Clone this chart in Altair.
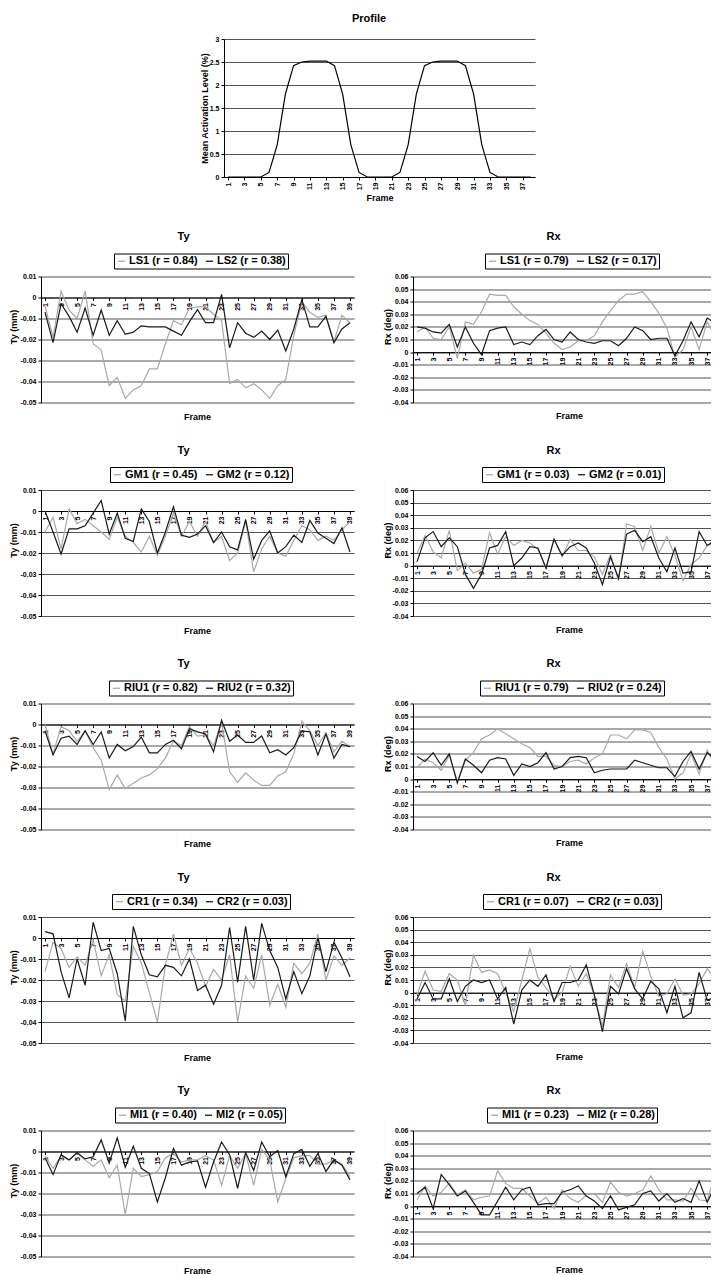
import altair as alt
import pandas as pd

FONT = "Liberation Sans"
GRAY = "#a9a9a9"
BLACK = "#1a1a1a"
GRID = "#555555"

# ---------------- data ----------------
frames = list(range(1, 40))
profile_frames = list(range(1, 39))
profile_values = [0, 0, 0, 0, 0, 0.1, 0.7, 1.8, 2.42, 2.5, 2.52, 2.52, 2.52, 2.42, 1.8, 0.7, 0.1,
                  0, 0, 0, 0, 0.1, 0.7, 1.8, 2.42, 2.5, 2.52, 2.52, 2.52, 2.42, 1.8, 0.7, 0.1,
                  0, 0, 0, 0, 0]

profile_ticks = [0, 0.5, 1, 1.5, 2, 2.5, 3]
ty_ticks = [0.01, 0.0, -0.01, -0.02, -0.03, -0.04, -0.05]
rx_ticks = [0.06, 0.05, 0.04, 0.03, 0.02, 0.01, 0.0, -0.01, -0.02, -0.03, -0.04]
ty_frame_labels = list(range(1, 40, 2))
rx_frame_labels = list(range(1, 38, 2))
profile_frame_labels = list(range(1, 38, 2))

ls1_ty = [-0.004, -0.019, 0.003, -0.006, -0.010, 0.003, -0.022, -0.025, -0.042, -0.038, -0.048, -0.044, -0.042,
          -0.034, -0.034, -0.022, -0.011, -0.013, -0.005, -0.0045, -0.0045, -0.008, -0.011, -0.041, -0.039, -0.043,
          -0.041, -0.044, -0.048, -0.042, -0.039, -0.018, -0.002, -0.007, -0.0095, -0.0085, -0.021, -0.0085, -0.012]
ls2_ty = [-0.007, -0.0215, -0.003, -0.009, -0.0165, -0.005, -0.018, -0.006, -0.018, -0.011, -0.0175, -0.0165, -0.0135,
          -0.014, -0.014, -0.014, -0.016, -0.018, -0.0115, -0.0058, -0.012, -0.012, 0.0015, -0.024, -0.012, -0.017,
          -0.019, -0.016, -0.020, -0.0155, -0.0255, -0.015, -0.001, -0.014, -0.014, -0.009, -0.0215, -0.015, -0.012]
ls1_rx = [0.016, 0.020, 0.011, 0.010, 0.020, -0.005, 0.024, 0.022, 0.032, 0.046, 0.045, 0.045, 0.036,
          0.030, 0.025, 0.022, 0.015, 0.007, 0.002, 0.004, 0.009, 0.009, 0.013, 0.024, 0.033, 0.041,
          0.046, 0.046, 0.048, 0.040, 0.031, 0.019, -0.004, 0.002, 0.020, 0.002, 0.024, 0.012, 0.006]
ls2_rx = [0.020, 0.019, 0.016, 0.015, 0.022, 0.004, 0.020, 0.007, -0.002, 0.017, 0.019, 0.020, 0.006,
          0.008, 0.006, 0.013, 0.018, 0.010, 0.008, 0.016, 0.010, 0.008, 0.007, 0.009, 0.009, 0.005,
          0.011, 0.020, 0.017, 0.010, 0.011, 0.011, -0.003, 0.009, 0.024, 0.012, 0.027, 0.023, 0.012]

gm1_ty = [-0.010, -0.003, -0.018, 0.001, -0.006, -0.004, -0.007, -0.010, -0.0135, -0.003, -0.012, -0.015, -0.0195,
          -0.012, -0.021, -0.012, -0.001, -0.012, -0.005, -0.012, -0.005, -0.015, -0.012, -0.0235, -0.020, -0.005,
          -0.029, -0.018, -0.012, -0.020, -0.0215, -0.014, -0.007, -0.009, -0.014, -0.012, -0.014, -0.009, -0.005]
gm2_ty = [0.000, -0.010, -0.0205, -0.0085, -0.0085, -0.007, -0.001, 0.005, -0.011, -0.001, -0.013, -0.0145, 0.001,
          -0.005, -0.020, -0.010, 0.002, -0.0115, -0.0125, -0.011, -0.007, -0.015, -0.010, -0.017, -0.0185, -0.004,
          -0.023, -0.014, -0.0095, -0.020, -0.017, -0.0115, -0.015, -0.0045, -0.0105, -0.013, -0.0155, -0.008, -0.0195]
gm1_rx = [0.010, 0.024, 0.011, 0.006, 0.028, -0.004, 0.002, -0.006, -0.003, 0.026, 0.009, 0.023, 0.016,
          0.020, 0.018, 0.013, -0.002, 0.021, 0.007, 0.021, 0.012, 0.012, 0.007, -0.007, 0.009, -0.012,
          0.033, 0.031, 0.012, 0.031, 0.010, 0.023, 0.008, -0.012, 0.001, 0.006, 0.016, 0.018, 0.012]
gm2_rx = [0.003, 0.022, 0.027, 0.015, 0.022, 0.015, -0.007, -0.018, -0.007, 0.014, 0.016, 0.027, 0.000,
          0.006, 0.015, 0.014, -0.002, 0.021, 0.008, 0.015, 0.018, 0.014, 0.002, -0.015, 0.007, -0.010,
          0.025, 0.028, 0.019, 0.023, 0.006, -0.005, 0.014, -0.006, -0.005, 0.027, 0.016, 0.020, 0.023]

riu1_ty = [0.000, -0.014, -0.001, -0.003, -0.008, -0.003, -0.011, -0.017, -0.031, -0.024, -0.0305, -0.028, -0.0255,
           -0.024, -0.021, -0.016, -0.008, -0.010, -0.001, -0.0055, -0.005, -0.010, 0.001, -0.0225, -0.0275, -0.023,
           -0.0265, -0.029, -0.029, -0.0245, -0.0225, -0.014, 0.0015, -0.003, -0.010, -0.004, -0.013, -0.008, -0.0105]
riu2_ty = [-0.003, -0.0145, -0.0065, -0.0055, -0.0095, -0.003, -0.0095, -0.0035, -0.016, -0.0095, -0.0125, -0.0105, -0.006,
           -0.0135, -0.0135, -0.0095, -0.0075, -0.0115, -0.002, -0.0035, -0.0045, -0.013, 0.002, -0.008, -0.005, -0.0085,
           -0.0085, -0.0055, -0.0135, -0.012, -0.0145, -0.011, -0.003, -0.0035, -0.0145, -0.0045, -0.016, -0.0095, -0.0105]
riu1_rx = [0.009, 0.016, 0.013, 0.007, 0.019, -0.002, 0.015, 0.021, 0.032, 0.035, 0.040, 0.036, 0.032,
           0.028, 0.025, 0.018, 0.018, 0.011, 0.010, 0.014, 0.015, 0.012, 0.017, 0.020, 0.035, 0.035,
           0.032, 0.039, 0.039, 0.037, 0.025, 0.016, 0.000, 0.005, 0.020, 0.004, 0.023, 0.010, 0.012]
riu2_rx = [0.018, 0.014, 0.021, 0.011, 0.020, -0.003, 0.016, 0.011, 0.005, 0.015, 0.017, 0.016, 0.003,
           0.012, 0.010, 0.013, 0.021, 0.008, 0.010, 0.017, 0.018, 0.017, 0.005, 0.007, 0.008, 0.008,
           0.008, 0.015, 0.013, 0.011, 0.009, 0.009, 0.002, 0.014, 0.022, 0.008, 0.021, 0.016, 0.015]

cr1_ty = [-0.016, -0.002, -0.005, -0.014, -0.009, -0.013, -0.001, -0.018, -0.008, -0.027, -0.030, -0.004, -0.012,
          -0.026, -0.040, -0.013, 0.002, -0.013, -0.005, -0.012, -0.023, -0.015, -0.020, -0.008, -0.040, -0.018,
          -0.024, -0.008, -0.032, -0.022, -0.033, -0.012, -0.017, -0.012, 0.002, -0.020, -0.0085, -0.013, -0.0095]
cr2_ty = [0.003, 0.002, -0.016, -0.0285, -0.010, -0.0225, 0.0075, -0.006, -0.005, -0.017, -0.0395, 0.0055, -0.008,
          -0.0175, -0.0185, -0.013, -0.014, -0.018, -0.010, -0.025, -0.0225, -0.0315, -0.0225, 0.005, -0.021, 0.0055,
          -0.020, 0.007, -0.006, -0.014, -0.029, -0.016, -0.0265, -0.018, 0.000, -0.016, -0.002, -0.0095, -0.0185]
cr1_rx = [-0.002, 0.017, 0.002, 0.001, 0.015, 0.010, -0.010, 0.030, 0.016, 0.018, 0.015, 0.000, -0.015,
          0.010, 0.035, 0.012, 0.004, -0.005, 0.000, 0.021, 0.005, 0.015, -0.002, -0.027, 0.014, 0.004,
          0.023, 0.004, 0.033, 0.013, -0.003, -0.001, 0.011, -0.002, -0.001, 0.007, 0.019, 0.011, 0.008]
cr2_rx = [-0.005, 0.008, -0.005, -0.005, 0.011, -0.007, 0.005, 0.010, 0.008, 0.010, -0.005, 0.004, -0.025,
          0.002, 0.010, 0.005, 0.014, -0.007, 0.008, 0.008, 0.010, 0.022, -0.002, -0.031, 0.005, -0.001,
          0.019, 0.003, -0.005, 0.009, 0.003, -0.016, 0.005, -0.020, -0.016, 0.016, -0.006, -0.004, 0.004]

mi1_ty = [-0.002, -0.008, -0.002, -0.004, -0.001, -0.004, -0.007, -0.004, -0.0125, -0.0065, -0.030, -0.008, -0.012,
          -0.011, -0.0095, -0.003, -0.001, -0.005, -0.004, -0.004, -0.002, -0.004, -0.016, -0.002, -0.008, -0.001,
          -0.016, 0.001, -0.004, -0.024, -0.013, -0.003, -0.002, -0.002, -0.006, -0.006, -0.004, -0.006, -0.012]
mi2_ty = [-0.003, -0.011, -0.0015, -0.004, -0.0005, -0.0035, -0.0025, 0.0055, -0.0055, 0.0065, -0.0075, 0.0025, -0.008,
          -0.0105, -0.024, -0.0125, 0.0015, -0.0065, -0.005, -0.0045, -0.017, -0.005, 0.0045, -0.0015, -0.0175, -0.0005,
          -0.009, 0.0045, -0.0025, 0.0005, -0.012, -0.001, 0.001, -0.007, -0.001, -0.0095, -0.004, -0.0065, -0.0135]
mi1_rx = [0.005, 0.016, 0.008, 0.011, 0.018, 0.009, 0.013, 0.005, 0.007, 0.008, 0.028, 0.018, 0.014,
          0.014, 0.008, 0.002, 0.007, -0.002, 0.013, 0.006, 0.003, 0.009, 0.010, 0.003, 0.019, 0.011,
          0.008, 0.010, 0.013, 0.024, 0.013, 0.005, 0.005, 0.004, 0.014, 0.005, 0.004, 0.026, 0.023]
mi2_rx = [0.010, 0.015, -0.002, 0.025, 0.017, 0.008, 0.012, 0.003, -0.007, -0.007, 0.004, 0.015, 0.005,
          0.013, 0.015, 0.001, 0.002, 0.002, 0.011, 0.013, 0.016, 0.008, 0.004, -0.002, 0.008, -0.003,
          -0.001, 0.001, 0.010, 0.012, 0.004, 0.010, 0.003, 0.006, 0.003, 0.020, 0.003, 0.016, 0.017]

# (kind, legend labels, series 1, series 2, legend left offset)
panels = [
    ("Ty", ["LS1 (r = 0.84)", "LS2 (r = 0.38)"], ls1_ty, ls2_ty, 73),
    ("Rx", ["LS1 (r = 0.79)", "LS2 (r = 0.17)"], ls1_rx, ls2_rx, 72),
    ("Ty", ["GM1 (r = 0.45)", "GM2 (r = 0.12)"], gm1_ty, gm2_ty, 69),
    ("Rx", ["GM1 (r = 0.03)", "GM2 (r = 0.01)"], gm1_rx, gm2_rx, 69),
    ("Ty", ["RIU1 (r = 0.82)", "RIU2 (r = 0.32)"], riu1_ty, riu2_ty, 68),
    ("Rx", ["RIU1 (r = 0.79)", "RIU2 (r = 0.24)"], riu1_rx, riu2_rx, 67),
    ("Ty", ["CR1 (r = 0.34)", "CR2 (r = 0.03)"], cr1_ty, cr2_ty, 71),
    ("Rx", ["CR1 (r = 0.07)", "CR2 (r = 0.03)"], cr1_rx, cr2_rx, 70),
    ("Ty", ["MI1 (r = 0.40)", "MI2 (r = 0.05)"], mi1_ty, mi2_ty, 74),
    ("Rx", ["MI1 (r = 0.23)", "MI2 (r = 0.28)"], mi1_rx, mi2_rx, 74),
]

# ---------------- layout constants ----------------
H = 126
TY_W = 313
RX_W = 298
PX_PER_FRAME_RX = 8.06
TITLE_OFFSET = 11
LEGEND_Y = -23

NUM_EXPR = "datum.value == 0 ? '0' : (datum.value < 0 ? '-' : '') + format(abs(datum.value), '.2f')"


def make_panel(kind, names, s1, s2, lx):
    if kind == "Ty":
        dom = [-0.05, 0.01]
        ticks = ty_ticks
        xdom = [0.5, 39.5]
        W = TY_W
        xlabels = ty_frame_labels
        ytitle = "Ty (mm)"
        ytitle_x = -28
    else:
        dom = [-0.04, 0.06]
        ticks = rx_ticks
        xdom = [0.5, 0.5 + RX_W / PX_PER_FRAME_RX]
        W = RX_W
        xlabels = rx_frame_labels
        ytitle = "Rx (deg)"
        ytitle_x = -26
    zero_y = H * dom[1] / (dom[1] - dom[0])
    below = H - zero_y
    frame_center = 140 if kind == "Ty" else 139
    df = pd.DataFrame({
        "Frame": frames + frames,
        "value": s1 + s2,
        "series": [names[0]] * len(s1) + [names[1]] * len(s2),
    })
    xaxis = alt.Axis(
        values=xlabels, offset=-below, labelAngle=270, labelAlign="right", labelBaseline="middle",
        labelFontSize=7, labelFontWeight="bold", labelPadding=2, tickSize=3, grid=False,
        labelOverlap=False, labelFlush=False, format="d",
        title="Frame", titleX=156, titleY=frame_center - zero_y, titleBaseline="middle",
        titleAlign="center", titleFontSize=9, titleFontWeight="bold",
    )
    yaxis = alt.Axis(
        values=ticks, labelExpr=NUM_EXPR, grid=True, gridColor=GRID, gridWidth=1,
        tickSize=3, labelFontSize=7, labelFontWeight="bold", labelPadding=2,
        title=ytitle, titleX=ytitle_x, titleY=50, titleAngle=270, titleAlign="center",
        titleBaseline="middle", titleFontSize=9, titleFontWeight="bold",
    )
    legend = alt.Legend(
        orient="none", legendX=lx, legendY=LEGEND_Y, direction="horizontal", title=None,
        strokeColor="black", fillColor="white", padding=2, symbolType="stroke", symbolSize=50,
        symbolStrokeWidth=1.3, labelFont=FONT, labelFontSize=11, labelFontWeight="bold",
        labelColor="black", labelOffset=2, columnPadding=5, labelLimit=0,
    )
    return alt.Chart(df).mark_line(strokeWidth=1.2, clip=True).encode(
        x=alt.X("Frame:Q", scale=alt.Scale(domain=xdom, nice=False, zero=False), axis=xaxis),
        y=alt.Y("value:Q", scale=alt.Scale(domain=dom, nice=False, zero=False), axis=yaxis),
        color=alt.Color("series:N", scale=alt.Scale(domain=names, range=[GRAY, BLACK]), legend=legend),
    ).properties(
        width=W, height=H,
        title=alt.TitleParams(text=kind, anchor="middle", dx=-14 if kind == "Ty" else -8.5,
                              offset=TITLE_OFFSET, font=FONT, fontSize=11, fontWeight="bold", color="black"),
    )


# profile chart (placed over the first grid column, drawn further right via the scale range)
prof_df = pd.DataFrame({"Frame": profile_frames, "Level": profile_values})
profile = alt.Chart(prof_df).mark_line(color="black", strokeWidth=1.2).encode(
    x=alt.X("Frame:Q", scale=alt.Scale(domain=[0.5, 38.5], range=[183, 494], nice=False, zero=False),
            axis=alt.Axis(values=profile_frame_labels, offset=-12, labelAngle=270, labelAlign="right",
                          labelBaseline="middle", labelFontSize=7, labelFontWeight="bold", labelPadding=2,
                          tickSize=3, grid=False, labelOverlap=False, labelFlush=False, format="d",
                          title="Frame", titleX=338.5, titleY=20, titleBaseline="middle", titleAlign="center",
                          titleFontSize=9, titleFontWeight="bold")),
    y=alt.Y("Level:Q", scale=alt.Scale(domain=[0, 3], range=[138, 0], nice=False),
            axis=alt.Axis(values=profile_ticks, offset=-183, format="~g", grid=True, gridColor=GRID,
                          gridWidth=1, tickSize=3, labelFontSize=7, labelFontWeight="bold", labelPadding=2,
                          title="Mean Activation Level (%)", titleX=-20, titleY=69, titleAngle=270,
                          titleAlign="center", titleBaseline="middle", titleFontSize=9,
                          titleFontWeight="bold")),
).properties(
    width=TY_W, height=150,
    title=alt.TitleParams(text="Profile", anchor="middle", dx=171.5, offset=11, font=FONT,
                          fontSize=11, fontWeight="bold", color="black"),
)

blank = alt.Chart(pd.DataFrame({"v": [0]})).mark_point(opacity=0).encode(
    x=alt.X("v:Q", axis=None), y=alt.Y("v:Q", axis=None)
).properties(width=1, height=1)

cells = [profile, blank] + [make_panel(*p) for p in panels]

chart = alt.concat(
    *cells, columns=2, spacing={"row": 87.5, "column": 59}, bounds="flush", align="each"
).resolve_scale(
    x="independent", y="independent", color="independent"
).properties(
    padding={"left": 1, "top": 5, "right": 0, "bottom": 0}, background="white"
).configure_view(stroke=None).configure_axis(
    labelFont=FONT, titleFont=FONT, labelColor="black", titleColor="black",
    domainColor="black", tickColor="black", domainWidth=1,
)

chart.save("out.html", embed_options={"renderer": "svg", "actions": False})
